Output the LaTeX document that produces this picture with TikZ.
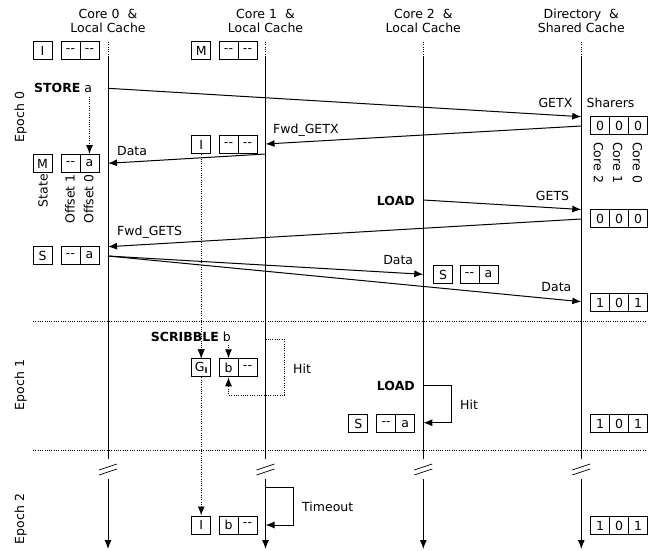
\documentclass[tikz,border=0pt]{standalone}
\usepackage{fontspec}
\setmainfont{DejaVu Sans}
\usetikzlibrary{arrows.meta}
\begin{document}
\begin{tikzpicture}[x=1pt,y=-1pt,
  every node/.style={font=\fontsize{12.5}{13.5}\selectfont},
  lbl/.style={inner sep=0pt},
  head/.style={align=center, inner sep=0pt},
  cell/.style={draw, line width=1pt, minimum width=19pt, minimum height=18pt, inner sep=0pt},
  life/.style={line width=1pt},
  msg/.style={line width=1pt, -{Latex[length=9pt,width=7pt]}},
  fdots/.style={dash pattern=on 1pt off 1.3pt},
  dmsg/.style={msg, fdots},
  sepline/.style={fdots, line width=0.7pt},
  brk/.style={line width=0.7pt},
]
\useasboundingbox (0,0) rectangle (660,550);

% headers
\node[head] (h0) at (108,21) {Core 0\ \ \&\\Local Cache};
\node[head] (h1) at (265.5,21) {Core 1\ \ \&\\Local Cache};
\node[head] (h2) at (423.3,21) {Core 2\ \ \&\\Local Cache};
\node[head] (h3) at (581.3,21) {Directory\ \ \&\\Shared Cache};

% lifelines
\foreach \n/\x in {0/108, 1/265.5, 2/423.3, 3/581.3} {
  \coordinate (t\n) at (\x,42);
  \coordinate (s\n) at (\x,57);
  \coordinate (u\n) at (\x,459);
  \coordinate (v\n) at (\x,479);
  \coordinate (e\n) at (\x,549);
  \draw[sepline] (t\n) -- (s\n);
  \draw[life] (s\n) -- (u\n);
  \draw[msg] (v\n) -- (e\n);
  \draw[brk] (\x-9,470) -- (\x+9,464);
  \draw[brk] (\x-9,475) -- (\x+9,469);
}

% epoch separators
\coordinate (sepAL) at (33,321);  \coordinate (sepAR) at (645,321);
\coordinate (sepBL) at (33,450.7); \coordinate (sepBR) at (645,450.7);
\draw[sepline] (sepAL) -- (sepAR);
\draw[sepline] (sepBL) -- (sepBR);

% epoch labels
\node[lbl, rotate=90, anchor=base] (ep0) at (24,117) {Epoch 0};
\node[lbl, rotate=90, anchor=base] (ep1) at (24,385) {Epoch 1};
\node[lbl, rotate=90, anchor=base] (ep2) at (24,519) {Epoch 2};

% ---- initial states
\node[cell] (c0s1) at (42.5,50.5) {I};
\node[cell] (c0a1) at (70.5,50.5) {{-}{-}};
\node[cell] (c0b1) at (89.5,50.5) {{-}{-}};
\node[cell] (c1s1) at (201.2,50.5) {M};
\node[cell] (c1a1) at (228.5,50.5) {{-}{-}};
\node[cell] (c1b1) at (247.5,50.5) {{-}{-}};

% ---- STORE a / GETX
\node[lbl, anchor=base west] (store) at (34,92) {\textbf{STORE} a};
\coordinate (stA) at (108,88.3);
\coordinate (stB) at (581.3,116.7);
\draw[msg] (stA) -- (stB);
\node[lbl, anchor=base east] (getx) at (572.5,107.5) {GETX};
\node[lbl, anchor=base west] (sharers) at (586.5,107.5) {Sharers};

\node[cell] (d1a) at (600,125.5) {0};
\node[cell] (d1b) at (619,125.5) {0};
\node[cell] (d1c) at (638,125.5) {0};
\node[lbl, rotate=-90, anchor=west] (lc2) at (598.5,142) {Core 2};
\node[lbl, rotate=-90, anchor=west] (lc1) at (617.7,142) {Core 1};
\node[lbl, rotate=-90, anchor=west] (lc0) at (637.3,142) {Core 0};

% Fwd_GETX
\coordinate (fxA) at (581.3,126);
\coordinate (fxB) at (265.5,144);
\draw[msg] (fxA) -- (fxB);
\node[lbl, anchor=base west] (fwdgetx) at (273,133) {Fwd\_GETX};
\node[cell] (c1s2) at (201.2,144.7) {I};
\node[cell] (c1a2) at (228.5,144.7) {{-}{-}};
\node[cell] (c1b2) at (247.5,144.7) {{-}{-}};

% Data to core 0
\coordinate (daA) at (265.5,154);
\coordinate (daB) at (108,163.3);
\draw[msg] (daA) -- (daB);
\node[lbl, anchor=base west] (data1) at (117,155) {Data};
\node[cell] (c0s2) at (42.5,163.5) {M};
\node[cell] (c0a2) at (70.5,163.5) {{-}{-}};
\node[cell] (c0b2) at (89.5,163.5) {a};
\coordinate (stDown) at (89.5,96.5);
\draw[dmsg] (stDown) -- (c0b2.north);

\node[lbl, rotate=90, anchor=east] (lstate) at (43,174) {State};
\node[lbl, rotate=90, anchor=east] (loff1) at (70,174) {Offset 1};
\node[lbl, rotate=90, anchor=east] (loff0) at (88.7,174) {Offset 0};

% LOAD / GETS
\node[lbl, anchor=base east] (load1) at (415,205) {\textbf{LOAD}};
\coordinate (gsA) at (423.3,200);
\coordinate (gsB) at (581.3,209.5);
\draw[msg] (gsA) -- (gsB);
\node[lbl, anchor=base east] (gets) at (569.3,200) {GETS};
\node[cell] (d2a) at (600,218.8) {0};
\node[cell] (d2b) at (619,218.8) {0};
\node[cell] (d2c) at (638,218.8) {0};

% Fwd_GETS
\coordinate (fsA) at (581.3,219);
\coordinate (fsB) at (108,246.7);
\draw[msg] (fsA) -- (fsB);
\node[lbl, anchor=base west] (fwdgets) at (117,235) {Fwd\_GETS};
\node[cell] (c0s3) at (42.5,255.5) {S};
\node[cell] (c0a3) at (70.5,255.5) {{-}{-}};
\node[cell] (c0b3) at (89.5,255.5) {a};

% Data to core 2 and directory
\coordinate (dbA) at (108,256);
\coordinate (dbB) at (423.3,274.3);
\coordinate (dcB) at (581.3,301.7);
\draw[msg] (dbA) -- (dbB);
\draw[msg] (dbA) -- (dcB);
\node[lbl, anchor=base east] (data2) at (413.3,264) {Data};
\node[lbl, anchor=base east] (data3) at (571.5,291.7) {Data};
\node[cell] (c2s1) at (443,274.5) {S};
\node[cell] (c2a1) at (469.5,274.5) {{-}{-}};
\node[cell] (c2b1) at (488.5,274.5) {a};
\node[cell] (d3a) at (600,302.5) {1};
\node[cell] (d3b) at (619,302.5) {0};
\node[cell] (d3c) at (638,302.5) {1};

% ---- Epoch 1
\node[lbl, anchor=base west] (scribble) at (150.7,341.5) {\textbf{SCRIBBLE} b};
\node[cell] (c1s3) at (201.2,367.8) {G\raisebox{-2pt}{\fontsize{8}{8}\selectfont\bfseries I}};
\node[cell] (c1a3) at (228.5,367.8) {b};
\node[cell] (c1b3) at (247.5,367.8) {{-}{-}};
\coordinate (scA) at (201.2,345);
\coordinate (scB) at (228.5,345);
\draw[dmsg] (scA) -- (c1s3.north);
\draw[dmsg] (scB) -- (c1a3.north);
\draw[dmsg] (c1s2.south) -- (c1s3.north);

\coordinate (hitA) at (265.5,339.3);
\draw[dmsg] (hitA) -- (284.3,339.3) -- (284.3,395) -- (228.5,395) -- (c1a3.south);
\node[lbl, anchor=base west] (hit1) at (293,373) {Hit};

\node[lbl, anchor=base east] (load2) at (415,390.5) {\textbf{LOAD}};
\coordinate (ldA) at (423.3,385.7);
\coordinate (ldB) at (423.3,422.7);
\draw[msg] (ldA) -- (451,385.7) -- (451,422.7) -- (ldB);
\node[lbl, anchor=base west] (hit2) at (460,409) {Hit};
\node[cell] (c2s2) at (358.3,423.8) {S};
\node[cell] (c2a2) at (386.2,423.8) {{-}{-}};
\node[cell] (c2b2) at (405.3,423.8) {a};
\node[cell] (d4a) at (600,423.8) {1};
\node[cell] (d4b) at (619,423.8) {0};
\node[cell] (d4c) at (638,423.8) {1};

% ---- Epoch 2
\coordinate (toA) at (265.5,487.7);
\coordinate (toB) at (265.5,525);
\draw[msg] (toA) -- (293.3,487.7) -- (293.3,525) -- (toB);
\node[lbl, anchor=base west] (timeout) at (302,511.5) {Timeout};
\node[cell] (c1s4) at (201.2,525) {I};
\node[cell] (c1a4) at (228.5,525) {b};
\node[cell] (c1b4) at (247.5,525) {{-}{-}};
\draw[dmsg] (c1s3.south) -- (c1s4.north);
\node[cell] (d5a) at (600,525.5) {1};
\node[cell] (d5b) at (619,525.5) {0};
\node[cell] (d5c) at (638,525.5) {1};
\end{tikzpicture}
\end{document}
